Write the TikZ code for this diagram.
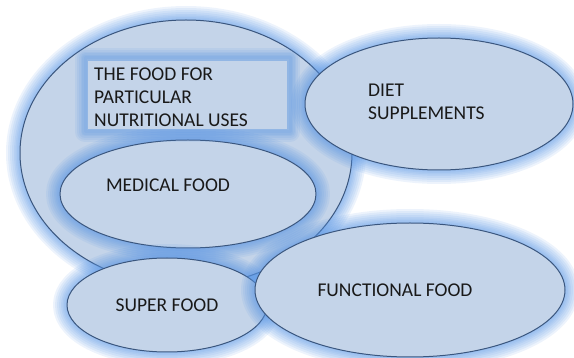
\documentclass[tikz,border=0pt]{standalone}
\usepackage{fontspec}
\setmainfont{Carlito}
\definecolor{foodfill}{RGB}{196,212,233}
\definecolor{foodline}{RGB}{58,86,126}
\definecolor{foodglow}{RGB}{90,150,228}
\begin{document}
\begin{tikzpicture}[x=1pt, y=-1pt, line join=round, line cap=round,
	glow/.style={draw=foodglow, opacity=0.11},
	foodshape/.style={fill=foodfill, draw=foodline, line width=1pt},
	lbl/.style={font=\fontsize{19.5}{23}\selectfont, text=black!90, inner sep=0pt, align=left}]
	\useasboundingbox (0,0) rectangle (574,358);
	% big ellipse
	\foreach \w in {28,24,20,16,12,9,6,3} \draw[glow, line width=\w pt] (186,153) ellipse (166pt and 133pt);
	\draw[foodshape] (186,153) ellipse (166pt and 133pt);
	% medical food
	\foreach \w in {28,24,20,16,12,9,6,3} \draw[glow, line width=\w pt] (188,194) ellipse (128pt and 54pt);
	\draw[foodshape] (188,194) ellipse (128pt and 54pt);
	% box
	\foreach \w in {20,16,12,9,6,3} \draw[glow, line width=\w pt] (85,58) rectangle (290,132);
	\fill[foodfill] (88,61) rectangle (287,129);
	% diet supplements
	\foreach \w in {28,24,20,16,12,9,6,3} \draw[glow, line width=\w pt] (439,104) ellipse (134pt and 66pt);
	\draw[foodshape] (439,104) ellipse (134pt and 66pt);
	% super food
	\foreach \w in {28,24,20,16,12,9,6,3} \draw[glow, line width=\w pt] (167,305) ellipse (100pt and 47pt);
	\draw[foodshape] (167,305) ellipse (100pt and 47pt);
	% functional food
	\foreach \w in {28,24,20,16,12,9,6,3} \draw[glow, line width=\w pt] (410,290) ellipse (155pt and 67pt);
	\draw[foodshape] (410,290) ellipse (155pt and 67pt);
	% texts
	\node[lbl, anchor=west] (fpnu) at (94,97) {THE FOOD FOR\\PARTICULAR\\NUTRITIONAL USES};
	\node[lbl] (medical) at (168,185) {MEDICAL FOOD};
	\node[lbl, anchor=west] (diet) at (368,102) {DIET\\SUPPLEMENTS};
	\node[lbl] (super) at (167,305) {SUPER FOOD};
	\node[lbl] (functional) at (395,290) {FUNCTIONAL FOOD};
\end{tikzpicture}
\end{document}
